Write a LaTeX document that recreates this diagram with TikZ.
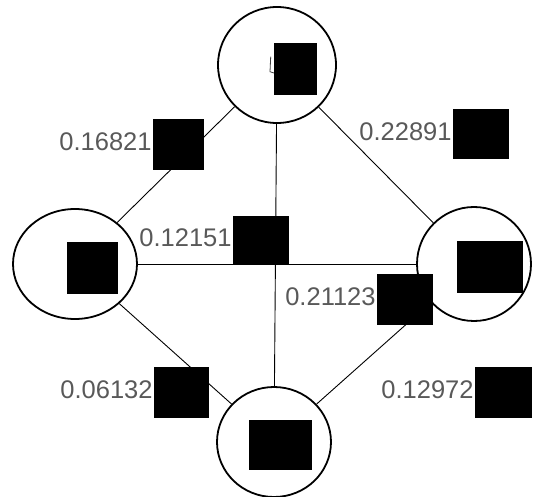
\documentclass[tikz,border=0pt]{standalone}
\usepackage{fontspec}
\setmainfont{Liberation Sans}
\usetikzlibrary{positioning,shapes.geometric}

\begin{document}
\begin{tikzpicture}[x=1pt,y=-1pt,
        vert/.style={draw,line width=1.8pt,ellipse,inner sep=0pt},
        link/.style={line width=0.9pt},
        mask/.style={fill=black,inner sep=0pt},
        wlab/.style={text=black!65,inner sep=1pt,font=\fontsize{25.5}{30}\selectfont}]
    \useasboundingbox (0,0) rectangle (533,497);
    % vertices
    \node[vert,minimum width=118pt,minimum height=116pt] (top) at (277,65) {};
    \node[vert,minimum width=124pt,minimum height=110pt] (lft) at (75,264) {};
    \node[vert,minimum width=114pt,minimum height=114pt] (rgt) at (474,264) {};
    \node[vert,minimum width=114pt,minimum height=110pt] (bot) at (274,442) {};
    % edges
    \draw[link] (top) -- (lft);
    \draw[link] (top) -- (rgt);
    \draw[link] (top) -- (bot);
    \draw[link] (lft) -- (rgt);
    \draw[link] (lft) -- (bot);
    \draw[link] (rgt) -- (bot);
    % vertex names, blacked out
    \draw[black!75,line width=0.8pt] (270.7,56.7) -- (270,71.7) -- (274,73);
    \node[mask,minimum width=43pt,minimum height=52pt] (mtop) at (295.5,69) {};
    \node[mask,minimum width=51pt,minimum height=52pt] (mlft) at (92.5,268) {};
    \node[mask,minimum width=66pt,minimum height=52pt] (mrgt) at (490,267) {};
    \node[mask,minimum width=63pt,minimum height=50pt] (mbot) at (280.5,445) {};
    % edge weights
    \node[mask,minimum width=51pt,minimum height=51pt] (w1) at (178.5,144.5) {};
    \node[wlab,left=0pt of w1,yshift=2.5pt] (l1) {0.16821};
    \node[mask,minimum width=56pt,minimum height=50pt] (w2) at (481,134) {};
    \node[wlab,left=0pt of w2,yshift=2.5pt] (l2) {0.22891};
    \node[mask,minimum width=56pt,minimum height=49pt] (w3) at (261,240.5) {};
    \node[wlab,left=0pt of w3,yshift=2.5pt] (l3) {0.12151};
    \node[mask,minimum width=56pt,minimum height=51pt] (w4) at (405,299.5) {};
    \node[wlab,left=0pt of w4,yshift=2.5pt] (l4) {0.21123};
    \node[mask,minimum width=55pt,minimum height=51pt] (w5) at (181.5,392.5) {};
    \node[wlab,left=0pt of w5,yshift=2.5pt] (l5) {0.06132};
    \node[mask,minimum width=57pt,minimum height=51pt] (w6) at (503.5,392.5) {};
    \node[wlab,left=0pt of w6,yshift=2.5pt] (l6) {0.12972};
\end{tikzpicture}
\end{document}
